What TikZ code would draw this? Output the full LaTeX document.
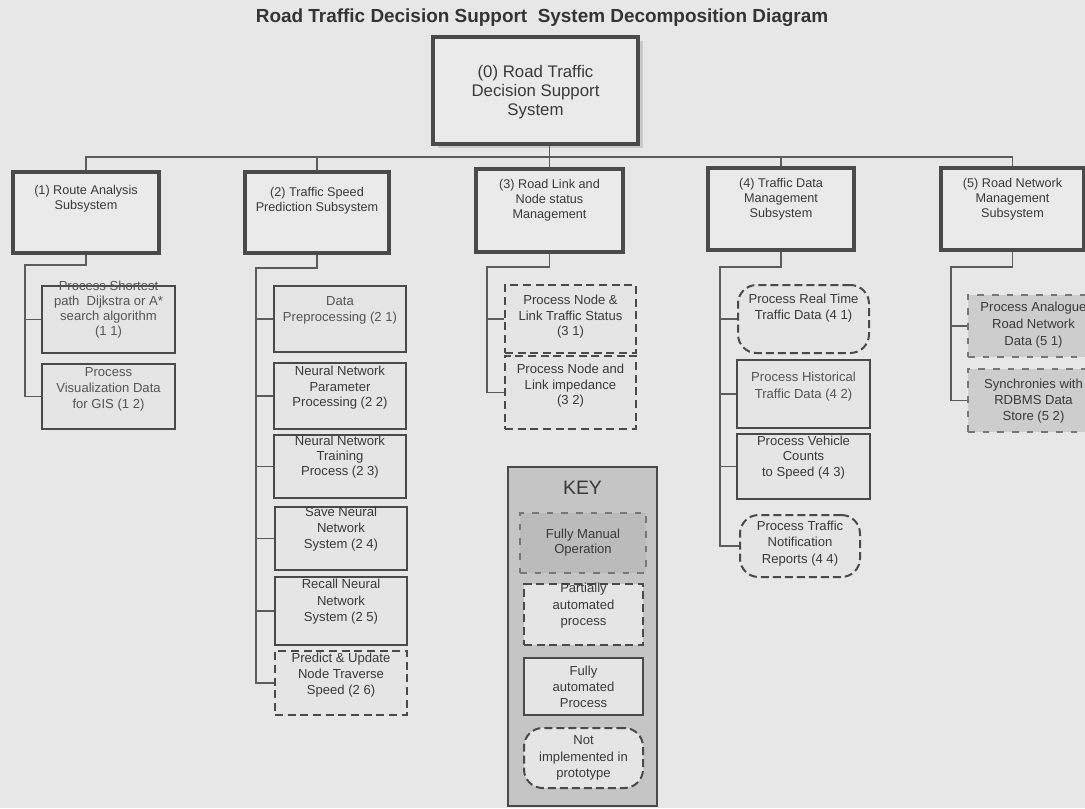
\documentclass[tikz,border=0pt]{standalone}
\usepackage{fontspec}
\setmainfont{Liberation Sans}
\usetikzlibrary{shadows}

\definecolor{bg}{HTML}{E7E7E7}
\definecolor{edge}{HTML}{4A4A4A}
\definecolor{linec}{HTML}{5C5C5C}
\definecolor{boxfill}{HTML}{EAEAEA}
\definecolor{leaffill}{HTML}{E5E5E5}
\definecolor{manfill}{HTML}{CDCDCD}
\definecolor{keyfill}{HTML}{C5C5C5}
\definecolor{ink}{HTML}{3A3A3A}
\definecolor{inksoft}{HTML}{555555}

\begin{document}
\begin{tikzpicture}[x=0.75pt,y=-0.75pt,
  wh/.style 2 args={minimum width=#1*0.75pt, minimum height=#2*0.75pt, inner sep=0pt},
  thickbox/.style={draw=edge, line width=3pt, fill=boxfill},
  autobox/.style={draw=edge, line width=1.6pt, fill=leaffill},
  partbox/.style={draw=edge, line width=1.8pt, dash pattern=on 6pt off 3.5pt, fill=leaffill},
  manbox/.style={draw=edge!75, line width=1.2pt, dash pattern=on 5pt off 6pt, fill=manfill},
  nibox/.style={draw=edge, line width=1.5pt, dash pattern=on 6pt off 3pt, rounded corners=14pt, fill=leaffill},
  keybox/.style={draw=edge, line width=1.6pt, fill=keyfill},
  conn/.style={draw=linec, line width=1.1pt},
  txt/.style={align=center, text=ink, inner sep=0pt, font=\fontsize{9.8}{#1}\selectfont},
  txt/.default=12,
  subtxt/.style={align=center, text=ink, inner sep=0pt, font=\fontsize{9.5}{11.4}\selectfont},
  roottxt/.style={align=center, text=ink, inner sep=0pt, font=\fontsize{12.6}{14.4}\selectfont},
  titletxt/.style={text=ink!90!black, inner sep=0pt, font=\fontsize{14.2}{16}\selectfont\bfseries},
  keytxt/.style={text=ink, inner sep=0pt, font=\fontsize{14.6}{16}\selectfont}
]
\useasboundingbox (0,0) rectangle (1085,808);
\clip (0,0) rectangle (1085,808);
\fill[bg] (0,0) rectangle (1085,808);

% title
\node[titletxt] (title) at (542,18) {Road Traffic Decision Support\ \ System Decomposition Diagram};

% root
\node[thickbox, wh={205}{107}, drop shadow={shadow xshift=4pt, shadow yshift=-3pt, fill=black, opacity=0.12}] (root) at (535.5,90.5) {};
\node[roottxt] (roott) at (535.5,92) {(0) Road Traffic\\Decision Support\\System};

% subsystems
\node[thickbox, wh={146}{81}] (s1) at (86,212.5) {};
\node[subtxt] (s1t) at (86,199) {(1) Route Analysis\\Subsystem};
\node[thickbox, wh={144}{81}] (s2) at (317,212.5) {};
\node[subtxt] (s2t) at (317,201) {(2) Traffic Speed\\Prediction Subsystem};
\node[thickbox, wh={147}{83}] (s3) at (549.5,210.5) {};
\node[subtxt] (s3t) at (549.5,200) {(3) Road Link and\\Node status\\Management};
\node[thickbox, wh={146}{82}] (s4) at (781,209) {};
\node[subtxt] (s4t) at (781,199) {(4) Traffic Data\\Management\\Subsystem};
\node[thickbox, wh={143}{82}] (s5) at (1012.5,209) {};
\node[subtxt] (s5t) at (1012.5,199) {(5) Road Network\\Management\\Subsystem};

% bus from the root to the subsystems
\coordinate (bus) at (0,157);
\draw[conn] (s1.north) -- (s1.north |- bus) -- (s5.north |- bus) -- (s5.north);
\foreach \s in {s2,s3,s4} \draw[conn] (\s.north) -- (\s.north |- bus);
\draw[conn] (root.south -| s3.north) -- (s3.north |- bus);

% (1) route analysis
\node[autobox, wh={133}{67}] (l11) at (108.5,319.5) {};
\node[txt=11.2, text=inksoft] (l11t) at (108.5,310) {Process Shortest\\path\ \ Dijkstra or A*\\search algorithm\\(1 1)};
\node[autobox, wh={133}{65}] (l12) at (108.5,396.5) {};
\node[txt, text=inksoft] (l12t) at (108.5,389) {Process\\Visualization Data\\for GIS (1 2)};

% (2) traffic speed prediction
\node[autobox, wh={132}{66}] (l21) at (340,319) {};
\node[txt, text=inksoft] (l21t) at (340,310) {Data\\Preprocessing (2 1)};
\node[autobox, wh={132}{66}] (l22) at (340,396) {};
\node[txt=11.6] (l22t) at (340,388) {Neural Network\\Parameter\\Processing (2 2)};
\node[autobox, wh={132}{63}] (l23) at (340,466.5) {};
\node[txt=11.2] (l23t) at (340,457) {Neural Network\\Training\\Process (2 3)};
\node[autobox, wh={132}{63}] (l24) at (341,538.5) {};
\node[txt] (l24t) at (341,529) {Save Neural\\Network\\System (2 4)};
\node[autobox, wh={132}{68}] (l25) at (341,611) {};
\node[txt=12.4] (l25t) at (341,602) {Recall Neural\\Network\\System (2 5)};
\node[partbox, wh={132}{64}] (l26) at (341,683) {};
\node[txt] (l26t) at (341,675) {Predict \& Update\\Node Traverse\\Speed (2 6)};

% (3) road link and node status
\node[partbox, wh={131}{68}] (l31) at (570.5,319) {};
\node[txt=11.6] (l31t) at (570.5,317) {Process Node \&\\Link Traffic Status\\(3 1)};
\node[partbox, wh={131}{73}] (l32) at (570.5,392.5) {};
\node[txt=11.6] (l32t) at (570.5,386) {Process Node and\\Link impedance\\(3 2)};

% (4) traffic data management
\node[nibox, wh={131}{68}] (l41) at (803.5,319) {};
\node[txt] (l41t) at (803.5,308) {Process Real Time\\Traffic Data (4 1)};
\node[autobox, wh={133}{68}] (l42) at (803.5,394) {};
\node[txt=12.6, text=inksoft] (l42t) at (803.5,386.5) {Process Historical\\Traffic Data (4 2)};
\node[autobox, wh={133}{65}] (l43) at (803.5,466.5) {};
\node[txt=11.8] (l43t) at (803.5,457.5) {Process Vehicle\\Counts\\to Speed (4 3)};
\node[nibox, wh={120}{62}] (l44) at (800,546) {};
\node[txt=12.4] (l44t) at (800,543.5) {Process Traffic\\Notification\\Reports (4 4)};

% (5) road network management
\node[manbox, wh={131}{62}] (l51) at (1033.5,326) {};
\node[txt=12.6] (l51t) at (1033.5,325) {Process Analogue\\Road Network\\Data (5 1)};
\node[manbox, wh={131}{63}] (l52) at (1033.5,400.5) {};
\node[txt=12] (l52t) at (1033.5,401) {Synchronies with\\RDBMS Data\\Store (5 2)};

% trunks from each subsystem to its processes
\coordinate (t1) at (25,265);
\coordinate (t2) at (256,268);
\coordinate (t3) at (487,267);
\coordinate (t4) at (720,267);
\coordinate (t5) at (951,267);
\draw[conn] (s1.south) |- (t1) |- (l12.west);
\draw[conn] (t1 |- l11.west) -- (l11.west);
\draw[conn] (s2.south) |- (t2) |- (l26.west);
\foreach \l in {l21,l22,l23,l24,l25} \draw[conn] (t2 |- \l.west) -- (\l.west);
\draw[conn] (s3.south) |- (t3) |- (l32.west);
\draw[conn] (t3 |- l31.west) -- (l31.west);
\draw[conn] (s4.south) |- (t4) |- (l44.west);
\foreach \l in {l41,l42,l43} \draw[conn] (t4 |- \l.west) -- (\l.west);
\draw[conn] (s5.south) |- (t5) |- (l52.west);
\draw[conn] (t5 |- l51.west) -- (l51.west);

% key
\node[keybox, wh={149}{339}] (key) at (582.5,636.5) {};
\node[keytxt] (keyt) at (582.5,488) {KEY};
\node[manbox, fill=keyfill!95!black, wh={126}{60}] (k1) at (583,543) {};
\node[txt=11.2] (k1t) at (583,542.5) {Fully Manual\\Operation};
\node[partbox, wh={119}{61}] (k2) at (583.5,614.5) {};
\node[txt=12.4] (k2t) at (583.5,606) {Partially\\automated\\process};
\node[autobox, wh={119}{57}] (k3) at (583.5,686.5) {};
\node[txt] (k3t) at (583.5,687) {Fully\\automated\\Process};
\node[nibox, wh={119}{60}] (k4) at (583.5,758) {};
\node[txt=12.4] (k4t) at (583.5,758) {Not\\implemented in\\prototype};
\end{tikzpicture}
\end{document}
